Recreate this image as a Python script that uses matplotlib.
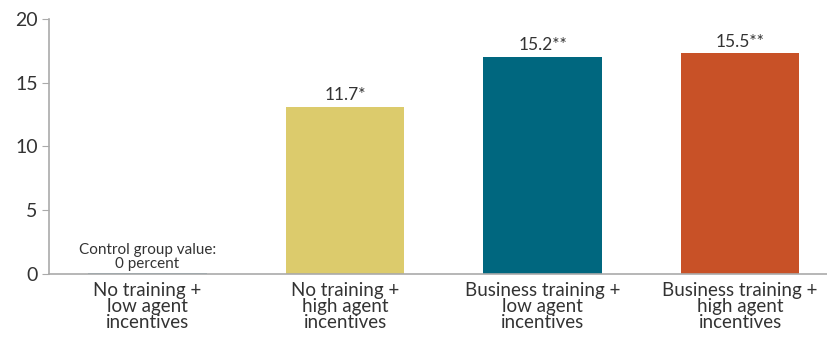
import numpy as np
import matplotlib
matplotlib.use("Agg")
import matplotlib.pyplot as plt

categories = ["No training +\nlow agent\nincentives",
              "No training +\nhigh agent\nincentives",
              "Business training +\nlow agent\nincentives",
              "Business training +\nhigh agent\nincentives"]
heights = [0.08, 13.1, 17.0, 17.3]
labels = ["", "11.7*", "15.2**", "15.5**"]
colors = ["#7fa9b6", "#dccb6c", "#00677f", "#c85127"]

plt.rcParams["font.family"] = ["Lato", "DejaVu Sans"]
TXT = "#333333"
GRID = "#aaaaaa"

fig = plt.figure(figsize=(8.27, 3.39), dpi=100)
ax = fig.add_axes([0.059, 0.192, 0.941, 0.752])

x = np.arange(len(categories))
bars = ax.bar(x, heights, width=0.6, color=colors)
for b, lab in zip(bars, labels):
    if lab:
        ax.text(b.get_x() + b.get_width() / 2, b.get_height() + 0.3, lab,
                ha="center", va="bottom", fontsize=12.5, color=TXT)

ax.text(0, 0.2, "Control group value:\n0 percent", ha="center", va="bottom",
        fontsize=11, color=TXT, linespacing=1.05)

ax.set_xlim(-0.5, 3.44)
ax.set_ylim(0, 20)
ax.set_yticks([0, 5, 10, 15, 20])
ax.set_xticks(x)
ax.set_xticklabels(categories, fontsize=13.5, color=TXT, linespacing=0.92)
ax.tick_params(axis="x", length=0, pad=6)
ax.tick_params(axis="y", length=5, color=GRID, labelsize=14, labelcolor=TXT, pad=3)

for s in ["top", "right"]:
    ax.spines[s].set_visible(False)
for s in ["left", "bottom"]:
    ax.spines[s].set_color(GRID)
    ax.spines[s].set_linewidth(1.2)

fig.savefig("out.png", dpi=100)
